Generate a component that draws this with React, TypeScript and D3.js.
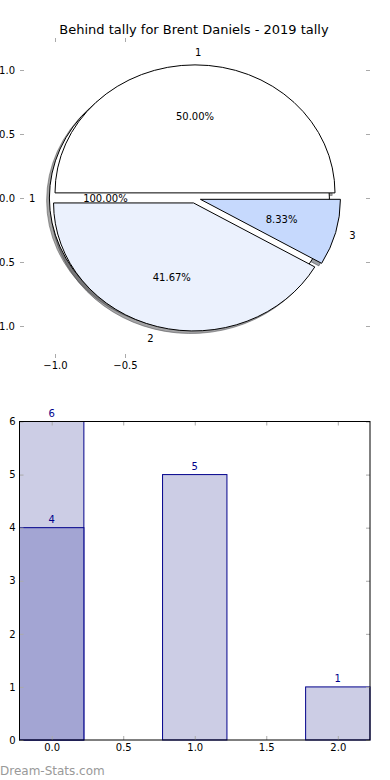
import * as d3 from "d3";
import { useEffect, useRef } from "react";

// pie data (behind tally share + per-category share)
const baseValues = [4];
const baseLabels = ["1"];
const pieValues = [6, 5, 1];
const pieLabels = ["1", "2", "3"];
const pieColors = ["#ffffff", "#ebf1fd", "#c6d9fd"];
const pieTicksX = [-1.0, -0.5];
const pieTicksY = [-1.0, -0.5, 0.0, 0.5, 1.0];

// bar data
const barCats = [0, 1, 2];
const barTotals = [6, 5, 1];
const barBehind = [4, 0, 0];
const barTicksX = [0, 0.5, 1, 1.5, 2];
const barTicksY = [0, 1, 2, 3, 4, 5, 6];

const title = "Behind tally for Brent Daniels - 2019 tally";

export default function App() {
    const ref = useRef<SVGSVGElement | null>(null);

    useEffect(() => {
        if (!ref.current) return;
        const svg = d3.select(ref.current);
        svg.selectAll("*").remove();

        const tickColor = "#aaaaaa";

        // ---------- pie ----------
        const xs = d3.scaleLinear().domain([-1.25, 1.25]).range([20, 370]);
        const ys = d3.scaleLinear().domain([-1.25, 1.25]).range([358, 38]);
        const rx = xs(1) - xs(0);
        const ry = ys(0) - ys(1);
        const explode = 0.04;

        const pie = d3
            .pie<number>()
            .sort(null)
            .value(d => d)
            .startAngle(Math.PI / 2)
            .endAngle(Math.PI / 2 - 2 * Math.PI);
        const arc = d3.arc<d3.PieArcDatum<number>>().innerRadius(0).outerRadius(1);

        const shade = (c: string) => {
            const rgb = d3.rgb(c);
            return `rgba(${Math.round(rgb.r * 0.3)},${Math.round(rgb.g * 0.3)},${Math.round(rgb.b * 0.3)},0.5)`;
        };

        type W = { d: d3.PieArcDatum<number>; color: string; label: string; pct: string; cx: number; cy: number; dx: number; dy: number };
        const makeWedges = (values: number[], labels: string[], colors: string[]): W[] => {
            const total = d3.sum(values);
            return pie(values).map((d, i) => {
                const mid = (d.startAngle + d.endAngle) / 2;
                const dx = Math.sin(mid);
                const dy = Math.cos(mid);
                return {
                    d,
                    color: colors[i],
                    label: labels[i],
                    pct: ((d.value / total) * 100).toFixed(2) + "%",
                    cx: explode * dx,
                    cy: explode * dy,
                    dx,
                    dy,
                };
            });
        };

        const baseWedges = makeWedges(baseValues, baseLabels, ["#ffffff"]);
        const wedges = makeWedges(pieValues, pieLabels, pieColors);
        const all = [...baseWedges, ...wedges];

        const pg = svg.append("g");

        // shadows go below every wedge
        pg.selectAll("path.shadow")
            .data(all)
            .join("path")
            .attr("class", "shadow")
            .attr("d", w => arc(w.d) as string)
            .attr("transform", w => `translate(${xs(w.cx - 0.02)},${ys(w.cy - 0.02)}) scale(${rx},${ry})`)
            .attr("fill", w => shade(w.color))
            .attr("stroke", w => shade(w.color))
            .attr("stroke-width", 1)
            .attr("vector-effect", "non-scaling-stroke");

        pg.selectAll("path.wedge")
            .data(all)
            .join("path")
            .attr("class", "wedge")
            .attr("d", w => arc(w.d) as string)
            .attr("transform", w => `translate(${xs(w.cx)},${ys(w.cy)}) scale(${rx},${ry})`)
            .attr("fill", w => w.color)
            .attr("stroke", "#000")
            .attr("stroke-width", 1)
            .attr("vector-effect", "non-scaling-stroke");

        pg.selectAll("text.lbl")
            .data(all)
            .join("text")
            .attr("class", "lbl")
            .attr("x", w => xs(w.cx + 1.1 * w.dx))
            .attr("y", w => ys(w.cy + 1.1 * w.dy))
            .attr("text-anchor", w => (w.dx >= -1e-9 ? "start" : "end"))
            .attr("dominant-baseline", "central")
            .attr("font-size", 10)
            .text(w => w.label);

        pg.selectAll("text.pct")
            .data(all)
            .join("text")
            .attr("class", "pct")
            .attr("x", w => xs(w.cx + 0.6 * w.dx))
            .attr("y", w => ys(w.cy + 0.6 * w.dy))
            .attr("text-anchor", "middle")
            .attr("dominant-baseline", "central")
            .attr("font-size", 10)
            .text(w => w.pct);

        // pie axes: inward ticks, no spines
        const fmt1 = d3.format(".1f");
        const styleAxis = (g: d3.Selection<SVGGElement, unknown, null, undefined>, hideText: boolean) => {
            g.select(".domain").remove();
            g.selectAll(".tick line").attr("stroke", tickColor);
            g.selectAll(".tick text").attr("font-size", 10).attr("fill", "#000").attr("font-family", null);
            if (hideText) g.selectAll(".tick text").remove();
            g.attr("font-family", null);
        };

        svg.append("g")
            .attr("transform", `translate(0,${ys.range()[0]})`)
            .call(d3.axisBottom(xs).tickValues(pieTicksX).tickFormat(d => fmt1(d as number)).tickSizeInner(-4).tickSizeOuter(0).tickPadding(4))
            .call(g => styleAxis(g, false));
        svg.append("g")
            .attr("transform", `translate(0,${ys.range()[1]})`)
            .call(d3.axisTop(xs).tickValues(pieTicksX).tickSizeInner(-4).tickSizeOuter(0))
            .call(g => styleAxis(g, true));
        svg.append("g")
            .attr("transform", `translate(${xs.range()[0]},0)`)
            .call(d3.axisLeft(ys).tickValues(pieTicksY).tickFormat(d => fmt1(d as number)).tickSizeInner(-4).tickSizeOuter(0).tickPadding(5))
            .call(g => styleAxis(g, false));
        svg.append("g")
            .attr("transform", `translate(${xs.range()[1]},0)`)
            .call(d3.axisRight(ys).tickValues(pieTicksY).tickSizeInner(-4).tickSizeOuter(0))
            .call(g => styleAxis(g, true));

        svg.append("text")
            .attr("x", 194)
            .attr("y", 34)
            .attr("text-anchor", "middle")
            .attr("font-size", 13)
            .text(title);

        // ---------- bars ----------
        const xb = d3.scaleLinear().domain([-0.225, 2.225]).range([19.5, 370]);
        const yb = d3.scaleLinear().domain([0, 6]).range([740, 421.5]);
        const bw = 0.45;
        const edge = "#00008b";

        const bg = svg.append("g");
        const drawBars = (vals: number[], fill: string) => {
            bg.append("g")
                .selectAll("rect")
                .data(barCats.map((c, i) => ({ c, v: vals[i] })).filter(d => d.v > 0))
                .join("rect")
                .attr("x", d => xb(d.c - bw / 2))
                .attr("width", xb(bw) - xb(0))
                .attr("y", d => yb(d.v))
                .attr("height", d => yb(0) - yb(d.v))
                .attr("fill", fill)
                .attr("stroke", edge)
                .attr("stroke-width", 1);
            bg.append("g")
                .selectAll("text")
                .data(barCats.map((c, i) => ({ c, v: vals[i] })).filter(d => d.v > 0))
                .join("text")
                .attr("x", d => xb(d.c))
                .attr("y", d => yb(d.v) - 5)
                .attr("text-anchor", "middle")
                .attr("font-size", 10)
                .attr("fill", edge)
                .text(d => d.v);
        };
        drawBars(barTotals, "#cccde5");
        drawBars(barBehind, "#a3a5d3");

        svg.append("g")
            .attr("transform", `translate(0,${yb.range()[0]})`)
            .call(d3.axisBottom(xb).tickValues(barTicksX).tickFormat(d => fmt1(d as number)).tickSizeInner(-4).tickSizeOuter(0).tickPadding(4))
            .call(g => styleAxis(g, false));
        svg.append("g")
            .attr("transform", `translate(0,${yb.range()[1]})`)
            .call(d3.axisTop(xb).tickValues(barTicksX).tickSizeInner(-4).tickSizeOuter(0))
            .call(g => styleAxis(g, true));
        svg.append("g")
            .attr("transform", `translate(${xb.range()[0]},0)`)
            .call(d3.axisLeft(yb).tickValues(barTicksY).tickFormat(d3.format("d") as any).tickSizeInner(-4).tickSizeOuter(0).tickPadding(4))
            .call(g => styleAxis(g, false));
        svg.append("g")
            .attr("transform", `translate(${xb.range()[1]},0)`)
            .call(d3.axisRight(yb).tickValues(barTicksY).tickSizeInner(-4).tickSizeOuter(0))
            .call(g => styleAxis(g, true));

        // spines
        svg.append("rect")
            .attr("x", xb.range()[0])
            .attr("y", yb.range()[1])
            .attr("width", xb.range()[1] - xb.range()[0])
            .attr("height", yb.range()[0] - yb.range()[1])
            .attr("fill", "none")
            .attr("stroke", "#000")
            .attr("stroke-width", 1);

        svg.append("text")
            .attr("x", 0)
            .attr("y", 775)
            .attr("font-size", 12)
            .attr("fill", "#999")
            .text("Dream-Stats.com");
    }, []);

    return (
        <svg
            ref={ref}
            width={390}
            height={780}
            style={{ position: "absolute", left: 0, top: 0, background: "#fff" }}
            fontFamily="'DejaVu Sans', sans-serif"
        />
    );
}
